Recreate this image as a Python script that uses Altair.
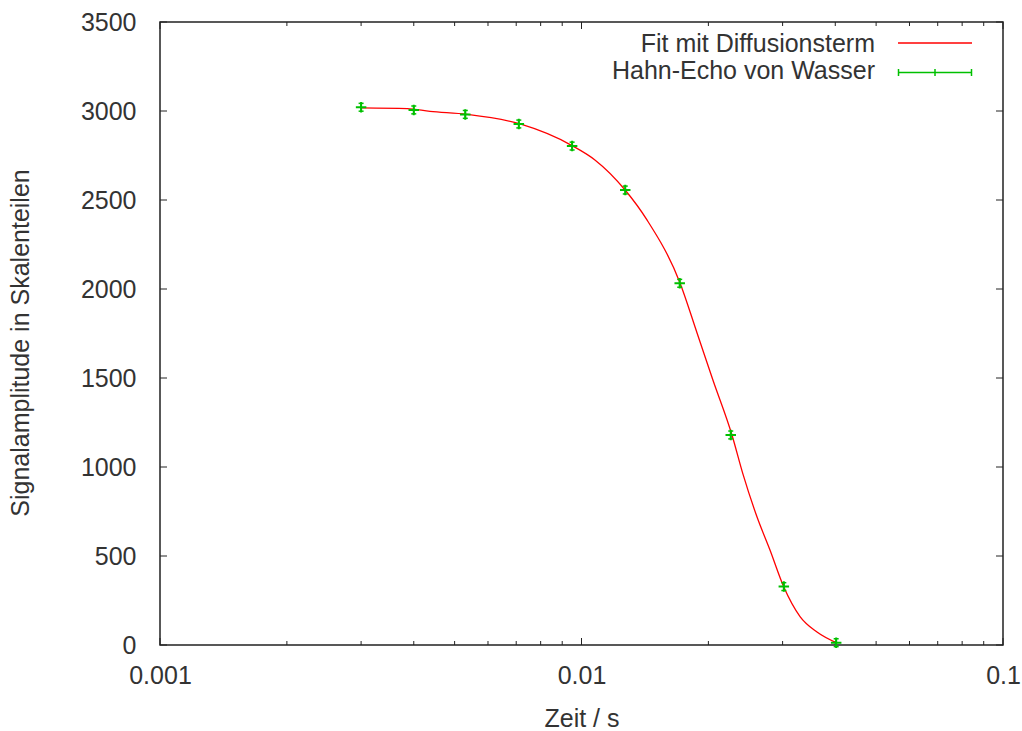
import altair as alt
import pandas as pd

# ---- data ----
time_s = [0.0030, 0.0040, 0.0053, 0.0071, 0.0095, 0.0127, 0.0171, 0.0226, 0.0302, 0.0402]
amplitude = [3021, 3006, 2981, 2927, 2803, 2556, 2032, 1180, 328, 13]
amp_err = [22, 22, 22, 22, 22, 22, 22, 22, 22, 22]

fit_time = [0.00301, 0.00386, 0.00437, 0.00535, 0.00715, 0.00954, 0.01076, 0.01269,
            0.0143, 0.01713, 0.0188, 0.0205, 0.02275, 0.02416, 0.02609, 0.0280,
            0.0302, 0.0330, 0.0362, 0.0404]
fit_amp = [3017, 3013, 2998, 2981, 2927, 2803, 2725, 2556,
           2388, 2034, 1753, 1489, 1180, 960, 719, 534,
           326, 160, 73, 11]

x_major = [0.001, 0.01, 0.1]
x_minor = [0.002, 0.003, 0.004, 0.005, 0.006, 0.007, 0.008, 0.009,
           0.02, 0.03, 0.04, 0.05, 0.06, 0.07, 0.08, 0.09]
y_ticks = [0, 500, 1000, 1500, 2000, 2500, 3000, 3500]

legend_labels = ["Fit mit Diffusionsterm", "Hahn-Echo von Wasser"]
x_title = "Zeit / s"
y_title = "Signalamplitude in Skalenteilen"

# ---- styling ----
W, H = 843, 623
FONT = "Liberation Sans"
FS = 25
TXT = "#333333"
RED = "#ff0000"
GREEN = "#00c000"
FRAME = "#222222"

pts = pd.DataFrame({
    "t": time_s,
    "a": amplitude,
    "lo": [a - e for a, e in zip(amplitude, amp_err)],
    "hi": [a + e for a, e in zip(amplitude, amp_err)],
})
fit = pd.DataFrame({"t": fit_time, "a": fit_amp})

xscale = alt.Scale(type="log", domain=[0.001, 0.1], nice=False)
yscale = alt.Scale(domain=[0, 3500], nice=False, zero=False)

xaxis = alt.Axis(values=x_major, format="~g", title=x_title, grid=False,
                 ticks=False, tickSize=0, domain=False,
                 labelFont=FONT, labelFontSize=FS, labelColor=TXT,
                 labelPadding=18, labelFlush=False, labelOverlap=False,
                 titleFont=FONT, titleFontSize=FS, titleFontWeight="normal",
                 titleColor=TXT, titleY=61, titleBaseline="top")
yaxis = alt.Axis(values=y_ticks, format="d", title=y_title, grid=False,
                 ticks=False, tickSize=0, domain=False,
                 labelFont=FONT, labelFontSize=FS, labelColor=TXT,
                 labelPadding=24, labelFlush=False, labelOverlap=False,
                 titleFont=FONT, titleFontSize=FS, titleFontWeight="normal",
                 titleColor=TXT, titleAngle=270, titleX=-127, titleY=320.5,
                 titleBaseline="bottom")

X = lambda f: alt.X(f, scale=xscale, axis=xaxis)
Y = lambda f: alt.Y(f, scale=yscale, axis=yaxis)

fit_line = alt.Chart(fit).mark_line(color=RED, strokeWidth=1.3, interpolate="monotone").encode(
    x=X("t:Q"), y=Y("a:Q"))

err_bars = alt.Chart(pts).mark_rule(color=GREEN, strokeWidth=1.5).encode(
    x=X("t:Q"), y=Y("lo:Q"), y2="hi:Q")
cap_shape = "M-1,0L1,0"
caps_lo = alt.Chart(pts).mark_point(shape=cap_shape, color=GREEN, strokeWidth=1.5,
                                    size=25, filled=False, opacity=1).encode(
    x=X("t:Q"), y=Y("lo:Q"))
caps_hi = alt.Chart(pts).mark_point(shape=cap_shape, color=GREEN, strokeWidth=1.5,
                                    size=25, filled=False, opacity=1).encode(
    x=X("t:Q"), y=Y("hi:Q"))
markers = alt.Chart(pts).mark_point(shape="M-1,0L1,0M0,-1L0,1", color=GREEN, strokeWidth=2,
                                    size=110, filled=False, opacity=1).encode(
    x=X("t:Q"), y=Y("a:Q"))

# ---- inward gnuplot-style ticks on all four sides ----
ydf = pd.DataFrame({"a": y_ticks})
xmaj = pd.DataFrame({"t": x_major})
xmin = pd.DataFrame({"t": x_minor})

def yt(x0, x1):
    return alt.Chart(ydf).mark_rule(color=FRAME, strokeWidth=1).encode(
        y=Y("a:Q"), x=alt.value(x0), x2=alt.value(x1))

def xt(df, y0, y1):
    return alt.Chart(df).mark_rule(color=FRAME, strokeWidth=1).encode(
        x=X("t:Q"), y=alt.value(y0), y2=alt.value(y1))

ticks = [yt(0, 7), yt(W - 7, W),
         xt(xmaj, H, H - 7), xt(xmaj, 0, 7),
         xt(xmin, H, H - 4), xt(xmin, 0, 4)]

# ---- legend (gnuplot style: text right-aligned, sample on the right) ----
one = pd.DataFrame({"k": [0]})
leg_txt1 = alt.Chart(pd.DataFrame({"label": [legend_labels[0]]})).mark_text(
    font=FONT, fontSize=FS, color=TXT, align="right", baseline="middle").encode(
    text="label:N", x=alt.value(715), y=alt.value(22))
leg_txt2 = alt.Chart(pd.DataFrame({"label": [legend_labels[1]]})).mark_text(
    font=FONT, fontSize=FS, color=TXT, align="right", baseline="middle").encode(
    text="label:N", x=alt.value(715), y=alt.value(49))
leg_red = alt.Chart(one).mark_rule(color=RED, strokeWidth=1.5).encode(
    x=alt.value(738), x2=alt.value(812), y=alt.value(21))
leg_green = alt.Chart(one).mark_rule(color=GREEN, strokeWidth=1.5).encode(
    x=alt.value(738), x2=alt.value(812), y=alt.value(50.5))
leg_gticks = [alt.Chart(one).mark_rule(color=GREEN, strokeWidth=1.5).encode(
    x=alt.value(px), y=alt.value(47), y2=alt.value(54)) for px in (738.5, 775, 811.5)]

chart = alt.layer(
    fit_line, *ticks, err_bars, caps_lo, caps_hi, markers,
    leg_txt1, leg_txt2, leg_red, leg_green, *leg_gticks,
).properties(
    width=W, height=H,
    padding={"left": 160, "top": 22, "right": 19, "bottom": 86},
    autosize=alt.AutoSizeParams(type="none"),
    background="white",
).configure_view(
    stroke=FRAME, strokeWidth=1.5,
)

chart.save("out.html", embed_options={"renderer": "svg", "actions": False})
